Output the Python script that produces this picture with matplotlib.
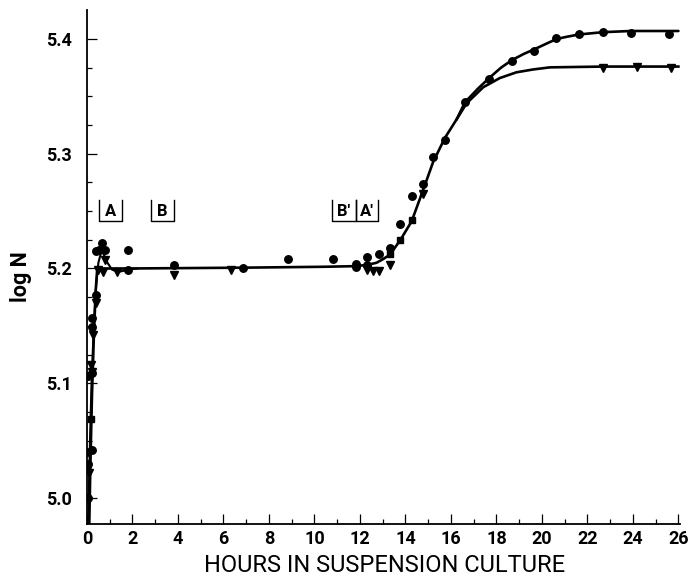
import matplotlib
matplotlib.use("Agg")
import matplotlib.pyplot as plt
import numpy as np

# ---- data (hours, log N) ----
circle_h = [0.06, 0.01, 0.06, 0.23, 0.06, 0.23, 0.20, 0.23, 0.38, 0.38, 0.54, 0.67, 0.79,
            1.82, 1.82, 3.82, 6.84, 8.82, 10.83, 11.81, 11.81, 12.29, 12.29, 12.85, 13.32,
            13.76, 14.27, 14.78, 15.22, 15.74, 16.62, 17.68, 18.67, 19.66, 20.64, 21.64,
            22.70, 23.91, 25.58]
circle_n = [5.000, 5.040, 5.030, 5.042, 5.106, 5.109, 5.157, 5.149, 5.177, 5.215, 5.216, 5.222, 5.216,
            5.216, 5.199, 5.203, 5.200, 5.208, 5.208, 5.204, 5.201, 5.210, 5.203, 5.213, 5.218,
            5.239, 5.263, 5.274, 5.297, 5.312, 5.345, 5.365, 5.381, 5.390, 5.401, 5.404,
            5.406, 5.405, 5.404]

tri_h = [0.08, 0.16, 0.20, 0.28, 0.38, 0.50, 0.72, 0.79, 1.33, 3.82, 6.33, 12.33, 12.58,
         12.85, 13.32, 14.78, 22.70, 24.19, 25.67]
tri_n = [5.022, 5.116, 5.110, 5.142, 5.170, 5.199, 5.197, 5.207, 5.197, 5.194, 5.199, 5.199, 5.198,
         5.198, 5.203, 5.265, 5.375, 5.376, 5.375]

sq_h = [0.16, 13.32, 13.76, 14.27]
sq_n = [5.069, 5.213, 5.225, 5.242]

# fitted curves
curve_main_h = [0.10, 0.15, 0.22, 0.30, 0.38, 0.45, 1.8, 6.8, 10.4, 11.7, 12.3, 12.73, 13.0, 13.32,
                13.78, 14.27, 14.75, 15.22, 15.74, 16.25, 16.62, 17.2, 17.68, 18.2, 18.67, 19.2,
                19.66, 20.2, 20.64, 21.1, 21.64, 22.7, 23.91, 26.0]
curve_main_n = [4.977, 5.030, 5.090, 5.140, 5.180, 5.200, 5.200, 5.2007, 5.2015, 5.202, 5.203, 5.205,
                5.208, 5.212, 5.225, 5.241, 5.267, 5.293, 5.314, 5.330, 5.345, 5.357, 5.366, 5.375,
                5.3815, 5.387, 5.391, 5.396, 5.400, 5.402, 5.404, 5.406, 5.407, 5.407]

curve_early_h = [0.05, 0.12, 0.20, 0.30, 0.40, 0.50, 0.62, 0.72, 0.90, 1.10, 1.38, 1.82, 2.2]
curve_early_n = [4.977, 5.040, 5.100, 5.150, 5.185, 5.205, 5.214, 5.213, 5.205, 5.199, 5.197, 5.199, 5.200]

curve_low_h = [16.25, 16.69, 17.42, 18.15, 18.88, 19.62, 20.35, 22.7, 26.0]
curve_low_n = [5.330, 5.344, 5.358, 5.366, 5.371, 5.3735, 5.3753, 5.376, 5.376]

bracket_start = [0.54, 2.81, 10.78, 11.81]
bracket_end = [1.55, 3.82, 11.81, 12.80]
bracket_label = ["A", "B", "B'", "A'"]
bracket_low, bracket_high = 5.241, 5.260

xticks = list(range(0, 27, 2))
yticks = [5.0, 5.1, 5.2, 5.3, 5.4]

# ---- figure ----
W, H = 693, 579
fig = plt.figure(figsize=(W / 100, H / 100), dpi=100)
ax = fig.add_axes([87 / W, 1 - 524 / H, (680 - 87) / W, (524 - 10) / H])
ax.set_xlim(0, 26.07)
ax.set_ylim(4.9773, 5.4253)

lw = 1.9
ax.plot(curve_main_h, curve_main_n, color="black", lw=lw, solid_capstyle="round")
ax.plot(curve_early_h, curve_early_n, color="black", lw=lw * 0.8)
ax.plot(curve_low_h, curve_low_n, color="black", lw=lw)

ax.plot(circle_h, circle_n, "o", color="black", ms=5.4, mec="black")
ax.plot(tri_h, tri_n, "v", color="black", ms=5.8, mec="black")
ax.plot(sq_h, sq_n, "s", color="black", ms=4.8, mec="black")

for s, e, lab in zip(bracket_start, bracket_end, bracket_label):
    ax.plot([s, s, e, e], [bracket_high, bracket_low, bracket_low, bracket_high],
            color="black", lw=1.0)
    ax.text((s + e) / 2, bracket_low + 0.0022, lab, ha="center", va="bottom",
            fontsize=12, fontweight="bold", family="Roboto")

for side in ("top", "right"):
    ax.spines[side].set_visible(False)
for side in ("left", "bottom"):
    ax.spines[side].set_linewidth(1.3)

ax.set_xticks(xticks)
ax.set_xticklabels([str(v) for v in xticks])
ax.set_xticks(np.arange(1, 27, 2), minor=True)
ax.set_yticks(yticks)
ax.set_yticklabels([f"{v:.1f}" for v in yticks])
ax.set_yticks(np.arange(5.025, 5.41, 0.025), minor=True)

ax.tick_params(which="major", direction="in", length=7.5, width=0.9)
ax.tick_params(which="minor", direction="in", length=3.8, width=0.9)
ax.tick_params(axis="x", which="major", pad=4)
ax.tick_params(axis="y", which="major", pad=11)
for t in ax.get_xticklabels() + ax.get_yticklabels():
    t.set_fontfamily("Roboto")
    t.set_fontweight("bold")
    t.set_fontsize(13)

fig.text(385 / W, 1 - 566 / H, "HOURS IN SUSPENSION CULTURE", ha="center", va="center",
         fontsize=17, family="Roboto")
fig.text(21 / W, 1 - 277 / H, "log N", ha="center", va="center", rotation=90,
         fontsize=15.5, fontweight="bold", family="Roboto")

fig.savefig("out.png", dpi=100)
